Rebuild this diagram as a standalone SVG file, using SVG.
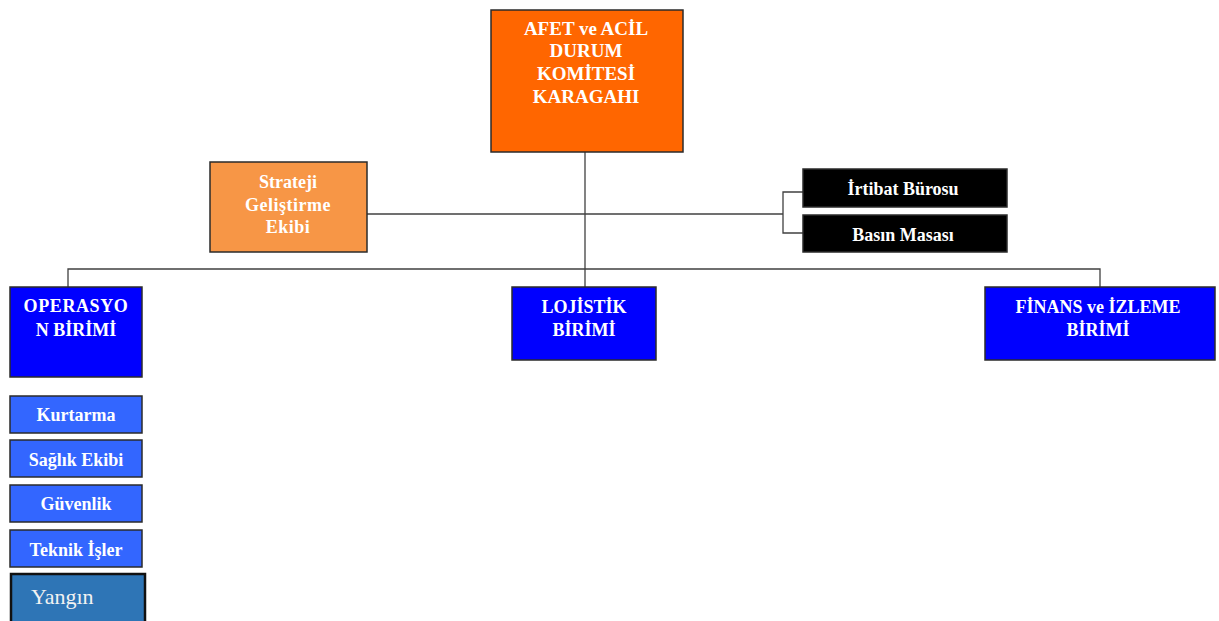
<svg xmlns="http://www.w3.org/2000/svg" width="1219" height="621" viewBox="0 0 1219 621">
  <style>
    .box { stroke: #2b2b2b; stroke-width: 1.5; }
    .hq { fill: #ff6600; }
    .team { fill: #f79646; }
    .unit { fill: #0000ff; }
    .sub { fill: #3366ff; }
    .dark { fill: #000000; }
    .fire { fill: #2e75b6; stroke: #111111; stroke-width: 2.5; }
    .lbl { font-family: "Liberation Serif", "Times New Roman", serif; font-weight: bold; fill: #ffffff; text-anchor: middle; }
    .lbl19 { font-size: 19px; }
    .lbl18 { font-size: 18px; }
    .plain { font-family: "Liberation Serif", "Times New Roman", serif; font-size: 22px; fill: #f2f2f2; }
    .link { fill: none; stroke: #404040; stroke-width: 1.3; }
  </style>

  <!-- connectors -->
  <g id="connectors">
    <line class="link" x1="585" y1="152" x2="585" y2="287"/>
    <line class="link" x1="367" y1="214" x2="783" y2="214"/>
    <polyline class="link" points="803,192 783,192 783,233 803,233"/>
    <polyline class="link" points="68,287 68,269 1100,269 1100,287"/>
  </g>

  <!-- headquarters -->
  <g id="hq">
    <rect class="box hq" x="491" y="10" width="192" height="142"/>
    <text class="lbl lbl19" x="586" y="35">AFET ve ACİL</text>
    <text class="lbl lbl19" x="586" y="57">DURUM</text>
    <text class="lbl lbl19" x="586" y="80">KOMİTESİ</text>
    <text class="lbl lbl19" x="586" y="103">KARAGAHI</text>
  </g>

  <!-- strategy team -->
  <g id="strateji">
    <rect class="box team" x="210" y="162" width="157" height="90"/>
    <text class="lbl lbl18" x="288" y="188">Strateji</text>
    <text class="lbl lbl18" x="288" y="211" letter-spacing="0.5">Geliştirme</text>
    <text class="lbl lbl18" x="288" y="233" letter-spacing="0.5">Ekibi</text>
  </g>

  <!-- liaison office -->
  <g id="irtibat">
    <rect class="box dark" x="803" y="169" width="204" height="38"/>
    <text class="lbl lbl18" x="903" y="195">İrtibat Bürosu</text>
  </g>

  <!-- press desk -->
  <g id="basin">
    <rect class="box dark" x="803" y="215" width="204" height="37"/>
    <text class="lbl lbl18" x="903" y="241">Basın Masası</text>
  </g>

  <!-- operations unit -->
  <g id="operasyon">
    <rect class="box unit" x="10" y="287" width="132" height="90"/>
    <text class="lbl lbl18" x="76" y="312" letter-spacing="0.6">OPERASYO</text>
    <text class="lbl lbl18" x="76" y="336">N BİRİMİ</text>
  </g>

  <!-- logistics unit -->
  <g id="lojistik">
    <rect class="box unit" x="512" y="287" width="144" height="73"/>
    <text class="lbl lbl18" x="584" y="313">LOJİSTİK</text>
    <text class="lbl lbl18" x="584" y="336">BİRİMİ</text>
  </g>

  <!-- finance and monitoring unit -->
  <g id="finans">
    <rect class="box unit" x="985" y="287" width="230" height="73"/>
    <text class="lbl lbl18" x="1098" y="313">FİNANS ve İZLEME</text>
    <text class="lbl lbl18" x="1098" y="336">BİRİMİ</text>
  </g>

  <!-- operations sub-teams -->
  <g id="kurtarma">
    <rect class="box sub" x="10" y="396" width="132" height="37"/>
    <text class="lbl lbl18" x="76" y="421">Kurtarma</text>
  </g>
  <g id="saglik">
    <rect class="box sub" x="10" y="440" width="132" height="37"/>
    <text class="lbl lbl18" x="76" y="466">Sağlık Ekibi</text>
  </g>
  <g id="guvenlik">
    <rect class="box sub" x="10" y="485" width="132" height="37"/>
    <text class="lbl lbl18" x="76" y="510">Güvenlik</text>
  </g>
  <g id="teknik">
    <rect class="box sub" x="10" y="530" width="132" height="37"/>
    <text class="lbl lbl18" x="76" y="556">Teknik İşler</text>
  </g>
  <g id="yangin">
    <rect class="fire" x="11" y="574" width="134" height="52"/>
    <text class="plain" x="31" y="604">Yangın</text>
  </g>
</svg>
